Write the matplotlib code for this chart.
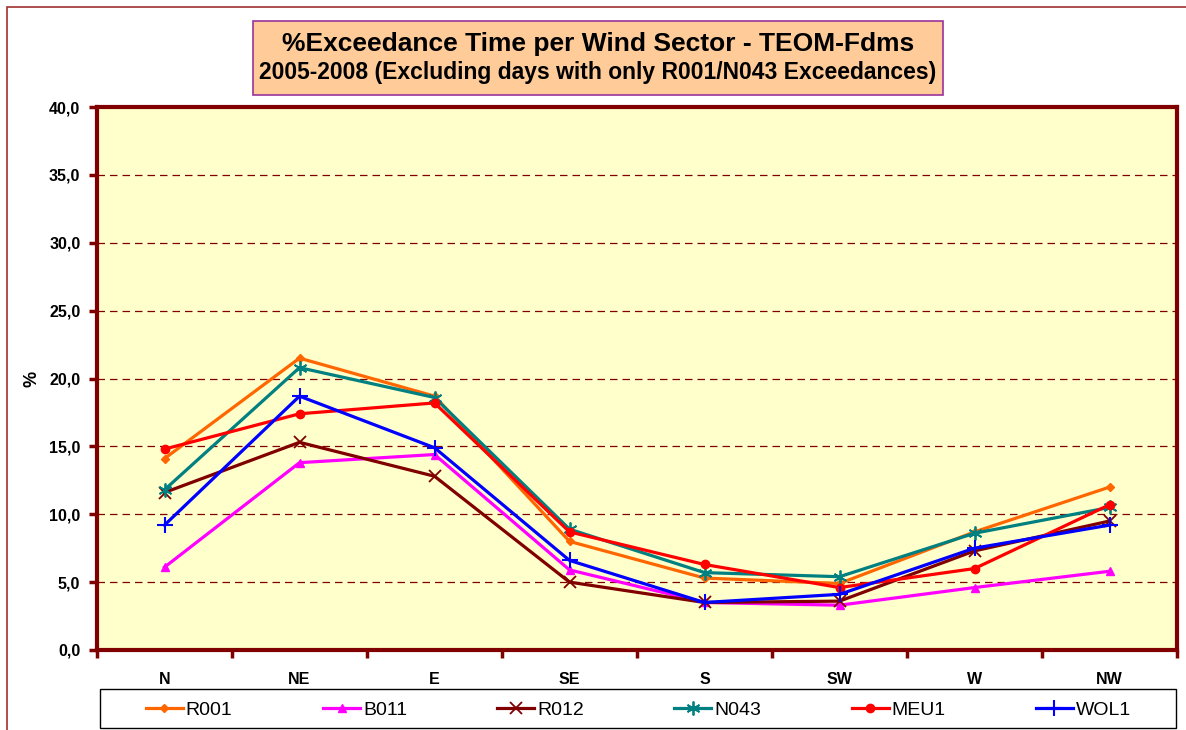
import matplotlib.pyplot as plt
from matplotlib.patches import Rectangle
from matplotlib.ticker import FuncFormatter, MultipleLocator

plt.rcParams['font.family'] = ['Liberation Sans', 'DejaVu Sans']

# wind sectors and % exceedance time per station
sectors = ['N', 'NE', 'E', 'SE', 'S', 'SW', 'W', 'NW']
r001 = [14.1, 21.5, 18.7, 8.0, 5.3, 4.9, 8.7, 12.0]
b011 = [6.1, 13.8, 14.4, 5.9, 3.5, 3.3, 4.6, 5.8]
r012 = [11.6, 15.3, 12.8, 5.0, 3.5, 3.6, 7.3, 9.5]
n043 = [11.8, 20.8, 18.6, 8.9, 5.7, 5.4, 8.6, 10.5]
meu1 = [14.8, 17.4, 18.2, 8.7, 6.3, 4.6, 6.0, 10.7]
wol1 = [9.2, 18.7, 14.9, 6.6, 3.5, 4.1, 7.5, 9.2]

W, H = 1186, 730
fig = plt.figure(figsize=(W / 100, H / 100), dpi=100)
fig.patch.set_facecolor('white')

# outer frame
fig.patches.append(Rectangle((7 / W, -0.1), 1.2, 1 - 7 / H + 0.1, transform=fig.transFigure,
                             fill=False, edgecolor='#A03030', linewidth=1.2))

ax = fig.add_axes([97 / W, 1 - 650 / H, (1177 - 97) / W, (650 - 107) / H])
ax.set_facecolor('#FFFFCC')

x = range(len(sectors))
series = [
    ('R001', r001, '#FF6600', dict(marker='D', markersize=4.5)),
    ('B011', b011, '#FF00FF', dict(marker='^', markersize=6)),
    ('R012', r012, '#800000', dict(marker='x', markersize=9, markeredgewidth=1.3)),
    ('N043', n043, '#008080', dict(marker=(6, 2, 0), markersize=10, markeredgewidth=1.3)),
    ('MEU1', meu1, '#FF0000', dict(marker='o', markersize=6)),
    ('WOL1', wol1, '#0000FF', dict(marker='+', markersize=11, markeredgewidth=1.5)),
]
handles = []
for name, vals, col, mk in series:
    ln, = ax.plot(x, vals, color=col, linewidth=2.3, label=name, zorder=3, **mk)
    handles.append(ln)

ax.set_xlim(-0.5, len(sectors) - 0.5)
ax.set_ylim(0, 40)
ax.yaxis.set_major_locator(MultipleLocator(5))
ax.yaxis.set_major_formatter(FuncFormatter(lambda v, p: f'{v:.1f}'.replace('.', ',')))
for yv in range(5, 40, 5):
    ax.axhline(yv, color='#800000', linestyle=(0, (6, 4)), linewidth=0.9, zorder=1)

ax.set_xticks(list(x))
ax.set_xticklabels(sectors, fontsize=11.5, fontweight='bold')
ax.set_xticks([i - 0.5 for i in range(len(sectors) + 1)], minor=True)
ax.tick_params(axis='x', which='major', length=0, pad=16)
ax.tick_params(axis='x', which='minor', length=6, width=2.5, color='#800000', direction='out')
ax.tick_params(axis='y', length=6, width=2.5, color='#800000', direction='out', pad=6)
for lab in ax.get_yticklabels():
    lab.set_fontsize(11.5)
    lab.set_fontweight('bold')

for s in ax.spines.values():
    s.set_color('#800000')
    s.set_linewidth(3)

ax.set_ylabel('%', fontsize=13, fontweight='bold', labelpad=6)

# title box
fig.patches.append(Rectangle((253 / W, 1 - 95 / H), (943 - 253) / W, (95 - 21) / H,
                             transform=fig.transFigure, facecolor='#FFCC99',
                             edgecolor='#993399', linewidth=1.2))
fig.text(598 / W, 1 - 44 / H, '%Exceedance Time per Wind Sector - TEOM-Fdms',
         ha='center', va='center', fontsize=19, fontweight='bold')
fig.text(598 / W, 1 - 72 / H, '2005-2008 (Excluding days with only R001/N043 Exceedances)',
         ha='center', va='center', fontsize=16.5, fontweight='bold')

# legend box
fig.patches.append(Rectangle((100 / W, 2 / H), (1176 - 100) / W, (728 - 689) / H,
                             transform=fig.transFigure, facecolor='white',
                             edgecolor='black', linewidth=1.0))
fig.legend(handles=handles, loc='center left', ncol=6,
           bbox_to_anchor=(146 / W, 1 - 710 / H), fontsize=14, frameon=False,
           handlelength=1.9, handletextpad=0.15, columnspacing=4.65,
           borderpad=0, borderaxespad=0)

fig.savefig('out.png', dpi=100)
